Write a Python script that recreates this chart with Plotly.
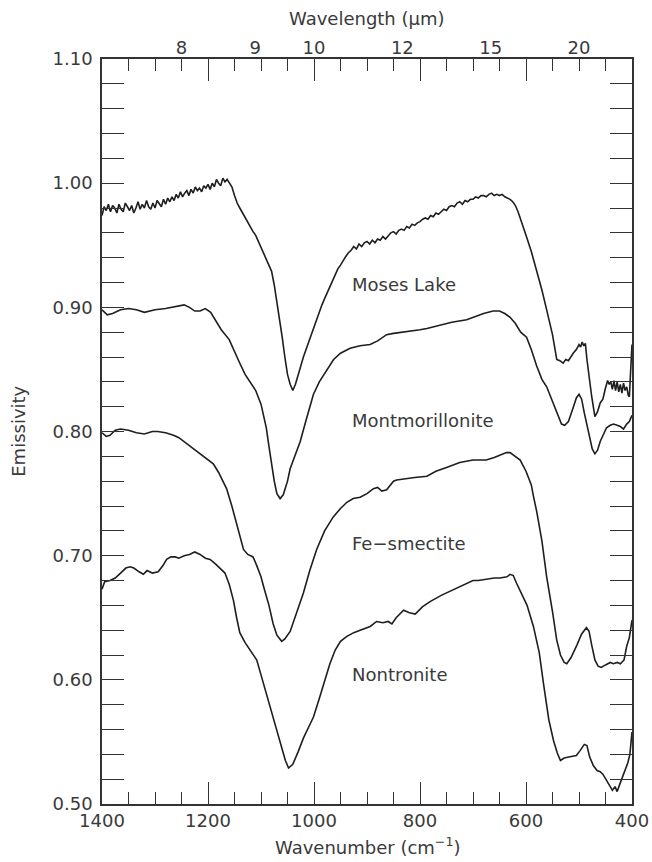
import plotly.graph_objects as go

# ---------------- data (wavenumber cm^-1, emissivity) ----------------
moses_wn = [1400, 1396, 1392, 1388, 1384, 1380, 1376, 1372, 1368, 1364, 1360, 1356, 1352, 1348, 1344,
            1340, 1336, 1332, 1328, 1324, 1320, 1316, 1312, 1308, 1304, 1300, 1296, 1292, 1288, 1284,
            1280, 1276, 1272, 1268, 1264, 1260, 1256, 1252, 1248, 1244, 1240, 1236, 1232, 1228, 1224,
            1220, 1216, 1212, 1208, 1204, 1200, 1196, 1192, 1188, 1184, 1180, 1176, 1172, 1168, 1164,
            1160, 1155, 1150, 1145, 1140, 1135, 1130, 1125, 1120, 1115, 1110, 1105,
            1100, 1095, 1090, 1085, 1080, 1075, 1070, 1065, 1060, 1055, 1050, 1045, 1040, 1035, 1030,
            1025, 1020, 1015, 1010, 1005, 1000, 995, 990, 985, 980, 975, 970, 965, 960, 955,
            950, 945, 940, 935, 930, 925, 920, 915, 910, 905, 900, 895, 890, 885, 880,
            875, 870, 865, 860, 855, 850, 845, 840, 835, 830, 825, 820, 815, 810, 805,
            800, 795, 790, 785, 780, 775, 770, 765, 760, 755, 750, 745, 740, 735, 730,
            725, 720, 715, 710, 705, 700, 695, 690, 685, 680, 675, 670, 665, 660, 655,
            650, 645, 640, 635, 630, 625, 620, 615, 610, 605, 600, 590, 580, 570, 561,
            550, 542, 536, 530, 525, 520, 515, 511, 505, 500, 497, 494, 491, 488, 485,
            482, 476, 470, 465, 460, 455, 450, 446, 443, 440, 437, 434, 431, 428, 425,
            422, 419, 416, 413, 410, 407, 405, 403, 401, 400]
moses_em = [0.974, 0.981, 0.978, 0.983, 0.977, 0.982, 0.980, 0.976, 0.983, 0.979, 0.977, 0.984, 0.981, 0.978, 0.982,
            0.976, 0.980, 0.985, 0.979, 0.983, 0.980, 0.986, 0.981, 0.979, 0.984, 0.980, 0.986, 0.983, 0.981, 0.987,
            0.983, 0.988, 0.985, 0.989, 0.986, 0.991, 0.988, 0.993, 0.989, 0.992, 0.994, 0.990, 0.995, 0.992, 0.997,
            0.994, 0.996, 0.993, 0.998, 0.996, 0.999, 0.995, 1.000, 0.997, 1.003, 1.000, 0.998, 1.004, 1.001, 1.003,
            1.000, 0.997, 0.990, 0.984, 0.980, 0.976, 0.972, 0.968, 0.965, 0.961, 0.958, 0.953,
            0.948, 0.943, 0.938, 0.934, 0.929, 0.918, 0.905, 0.892, 0.876, 0.860, 0.846, 0.838, 0.833, 0.838, 0.846,
            0.853, 0.860, 0.866, 0.872, 0.879, 0.885, 0.890, 0.896, 0.902, 0.907, 0.912, 0.917, 0.922, 0.927, 0.931,
            0.934, 0.938, 0.941, 0.944, 0.946, 0.949, 0.947, 0.951, 0.949, 0.952, 0.953, 0.951, 0.954, 0.952, 0.955,
            0.954, 0.957, 0.955, 0.958, 0.960, 0.961, 0.959, 0.962, 0.963, 0.962, 0.965, 0.964, 0.967, 0.966, 0.968,
            0.969, 0.971, 0.972, 0.971, 0.974, 0.973, 0.976, 0.975, 0.977, 0.979, 0.978, 0.981, 0.982, 0.981, 0.984,
            0.985, 0.983, 0.986, 0.985, 0.987, 0.987, 0.989, 0.988, 0.990, 0.990, 0.989, 0.991, 0.992, 0.990, 0.991,
            0.990, 0.991, 0.989, 0.988, 0.987, 0.985, 0.982, 0.977, 0.971, 0.965, 0.958, 0.945, 0.930, 0.914, 0.898,
            0.878, 0.858, 0.857, 0.855, 0.858, 0.857, 0.861, 0.863, 0.866, 0.870, 0.868, 0.872, 0.869, 0.871, 0.858,
            0.847, 0.828, 0.812, 0.816, 0.823, 0.826, 0.835, 0.841, 0.838, 0.840, 0.834, 0.841, 0.833, 0.840, 0.832,
            0.838, 0.831, 0.839, 0.833, 0.836, 0.829, 0.828, 0.845, 0.866, 0.870]

mont_wn = [1400, 1390, 1380, 1365, 1350, 1335, 1320, 1300, 1280, 1260, 1245, 1235, 1225, 1215, 1205,
           1195, 1185, 1175, 1160, 1150, 1140, 1130, 1120, 1110, 1100, 1090, 1085, 1080, 1075, 1070,
           1064, 1058, 1050, 1045, 1035, 1026, 1015, 1001, 990, 975, 963, 950, 932, 913, 894,
           880, 863, 850, 830, 800, 787, 760, 740, 712, 700, 680, 662, 650, 640, 630,
           620, 610, 599, 590, 580, 570, 561, 550, 540, 533, 527, 520, 512, 505, 500,
           495, 490, 485, 480, 475, 470, 465, 460, 454, 448, 441, 435, 428, 422, 416,
           410, 405, 400]
mont_em = [0.898, 0.894, 0.895, 0.898, 0.899, 0.898, 0.896, 0.898, 0.899, 0.901, 0.902, 0.900, 0.897, 0.897, 0.899,
           0.896, 0.889, 0.882, 0.874, 0.864, 0.855, 0.846, 0.840, 0.833, 0.822, 0.803, 0.788, 0.773, 0.760, 0.750,
           0.746, 0.749, 0.760, 0.770, 0.782, 0.792, 0.809, 0.830, 0.840, 0.850, 0.858, 0.863, 0.867, 0.869, 0.870,
           0.873, 0.878, 0.879, 0.880, 0.882, 0.883, 0.886, 0.888, 0.890, 0.892, 0.895, 0.897, 0.897, 0.895, 0.892,
           0.887, 0.880, 0.876, 0.866, 0.853, 0.842, 0.836, 0.824, 0.812, 0.806, 0.805, 0.808, 0.818, 0.827, 0.830,
           0.826, 0.815, 0.805, 0.795, 0.786, 0.782, 0.785, 0.792, 0.798, 0.803, 0.805, 0.806, 0.805, 0.804, 0.802,
           0.806, 0.808, 0.813]

fe_wn = [1400, 1392, 1385, 1375, 1365, 1350, 1335, 1320, 1305, 1295, 1280, 1265, 1255, 1240, 1228,
         1215, 1200, 1190, 1180, 1170, 1165, 1155, 1146, 1138, 1133, 1125, 1115, 1108, 1100, 1095,
         1085, 1077, 1070, 1061, 1055, 1045, 1035, 1020, 1008, 995, 980, 964, 950, 938, 926,
         913, 900, 888, 880, 872, 863, 850, 844, 830, 810, 787, 770, 750, 725, 700,
         675, 660, 650, 637, 630, 620, 611, 600, 590, 586, 580, 570, 561, 550, 542,
         535, 528, 523, 515, 504, 495, 486, 481, 476, 470, 464, 458, 450, 441, 435,
         428, 422, 415, 410, 405, 400]
fe_em = [0.799, 0.796, 0.797, 0.801, 0.802, 0.801, 0.799, 0.798, 0.800, 0.800, 0.799, 0.797, 0.795, 0.790, 0.786,
         0.782, 0.777, 0.774, 0.767, 0.758, 0.754, 0.740, 0.726, 0.713, 0.705, 0.701, 0.699, 0.692, 0.683, 0.675,
         0.660, 0.645, 0.636, 0.631, 0.633, 0.639, 0.652, 0.670, 0.688, 0.705, 0.720, 0.731, 0.738, 0.743, 0.746,
         0.747, 0.750, 0.754, 0.755, 0.752, 0.753, 0.760, 0.761, 0.762, 0.763, 0.764, 0.768, 0.771, 0.775, 0.777,
         0.777, 0.779, 0.781, 0.783, 0.783, 0.780, 0.777, 0.768, 0.757, 0.748, 0.736, 0.712, 0.683, 0.655, 0.632,
         0.620, 0.614, 0.613, 0.618, 0.628, 0.637, 0.642, 0.639, 0.628, 0.616, 0.611, 0.610, 0.612, 0.614, 0.613,
         0.614, 0.613, 0.616, 0.627, 0.634, 0.648]

non_wn = [1400, 1395, 1385, 1375, 1365, 1355, 1347, 1340, 1330, 1322, 1315, 1305, 1294, 1285, 1278,
          1270, 1262, 1255, 1245, 1235, 1225, 1215, 1205, 1196, 1185, 1175, 1168, 1160, 1152, 1146,
          1140, 1130, 1121, 1108, 1100, 1090, 1080, 1070, 1060, 1054, 1048, 1040, 1030, 1020, 1010,
          1001, 990, 980, 970, 960, 950, 938, 925, 913, 900, 894, 882, 870, 860, 853,
          845, 831, 820, 809, 795, 781, 760, 740, 725, 700, 690, 675, 660, 649, 636,
          630, 624, 618, 611, 605, 598, 586, 575, 567, 557, 548, 541, 535, 528, 517,
          505, 498, 490, 485, 480, 473, 466, 460, 455, 448, 442, 437, 432, 428, 423,
          418, 413, 408, 404, 400]
non_em = [0.673, 0.679, 0.680, 0.682, 0.686, 0.690, 0.691, 0.690, 0.687, 0.685, 0.688, 0.686, 0.687, 0.692, 0.697,
          0.699, 0.699, 0.698, 0.700, 0.701, 0.703, 0.701, 0.698, 0.697, 0.693, 0.689, 0.686, 0.677, 0.664, 0.650,
          0.638, 0.630, 0.624, 0.616, 0.604, 0.589, 0.573, 0.560, 0.543, 0.535, 0.529, 0.532, 0.542, 0.553, 0.562,
          0.570, 0.585, 0.600, 0.613, 0.624, 0.631, 0.635, 0.638, 0.640, 0.642, 0.643, 0.647, 0.646, 0.647, 0.645,
          0.650, 0.656, 0.654, 0.653, 0.659, 0.663, 0.668, 0.672, 0.675, 0.680, 0.680, 0.681, 0.682, 0.682, 0.683,
          0.685, 0.684, 0.678, 0.672, 0.667, 0.660, 0.643, 0.622, 0.597, 0.568, 0.551, 0.541, 0.535, 0.537, 0.538,
          0.539, 0.543, 0.548, 0.547, 0.538, 0.531, 0.527, 0.526, 0.524, 0.519, 0.514, 0.511, 0.514, 0.510, 0.516,
          0.522, 0.528, 0.533, 0.540, 0.558]

series_names = ["Moses Lake", "Montmorillonite", "Fe\u2212smectite", "Nontronite"]
label_wn = [932, 932, 932, 932]
label_em = [0.918, 0.809, 0.710, 0.604]

wavelength_ticks = [8, 9, 10, 12, 15, 20]

# ---------------- figure ----------------
FONT = "DejaVu Sans"
TXT = "#3a3a3a"
LINE = "#1e1e1e"
AX = "#333333"

fig = go.Figure()
for wn, em in [(moses_wn, moses_em), (mont_wn, mont_em), (fe_wn, fe_em), (non_wn, non_em)]:
    fig.add_trace(go.Scatter(x=wn, y=em, mode="lines", line=dict(color=LINE, width=1.6),
                             showlegend=False, hoverinfo="skip"))

# invisible trace to activate the top axis
fig.add_trace(go.Scatter(x=[1400, 400], y=[0.5, 0.5], xaxis="x2", mode="lines",
                         line=dict(width=0), showlegend=False, hoverinfo="skip"))

for name, x, y in zip(series_names, label_wn, label_em):
    fig.add_annotation(x=x, y=y, text=name, showarrow=False, xanchor="left", yanchor="middle",
                       font=dict(family=FONT, size=18, color=TXT))

fig.update_layout(
    template="none",
    width=652, height=862,
    margin=dict(l=102, r=20, t=59, b=58, autoexpand=False),
    plot_bgcolor="white", paper_bgcolor="white",
    xaxis=dict(range=[1400, 400], tick0=400, dtick=200, ticks="inside", ticklen=22, tickwidth=1.2,
               tickcolor=AX, showline=True, linecolor=AX, linewidth=1.5, mirror="allticks",
               showgrid=False, zeroline=False, automargin=False,
               minor=dict(dtick=50, ticks="inside", ticklen=12, tickwidth=1.2, tickcolor=AX, showgrid=False),
               tickfont=dict(family=FONT, size=18, color=TXT), ticklabelstandoff=0),
    xaxis2=dict(range=[1400, 400], overlaying="x", side="top", tickmode="array",
                tickvals=[10000.0 / w for w in wavelength_ticks], ticktext=[str(w) for w in wavelength_ticks],
                ticks="", showline=False, showgrid=False, zeroline=False, automargin=False,
                tickfont=dict(family=FONT, size=18, color=TXT)),
    yaxis=dict(range=[0.5, 1.1], tick0=0.5, dtick=0.1, tickformat=".2f", ticks="inside", ticklen=22,
               tickwidth=1.2, tickcolor=AX, showline=True, linecolor=AX, linewidth=1.5, mirror="allticks",
               showgrid=False, zeroline=False, automargin=False,
               minor=dict(dtick=0.02, ticks="inside", ticklen=12, tickwidth=1.2, tickcolor=AX, showgrid=False),
               tickfont=dict(family=FONT, size=18, color=TXT), ticklabelstandoff=4),
)

fig.add_annotation(xref="paper", yref="paper", x=0.5, y=-0.056, yanchor="middle", showarrow=False,
                   text="Wavenumber (cm<sup>\u22121</sup>)", font=dict(family=FONT, size=18, color=TXT))
fig.add_annotation(xref="paper", yref="paper", x=0.5, y=1.055, yanchor="middle", showarrow=False,
                   text="Wavelength (\u03bcm)", font=dict(family=FONT, size=18, color=TXT))
fig.add_annotation(xref="paper", yref="paper", x=-0.158, y=0.5, xanchor="center", showarrow=False,
                   textangle=-90, text="Emissivity", font=dict(family=FONT, size=18, color=TXT))

fig.write_html("out.html")
